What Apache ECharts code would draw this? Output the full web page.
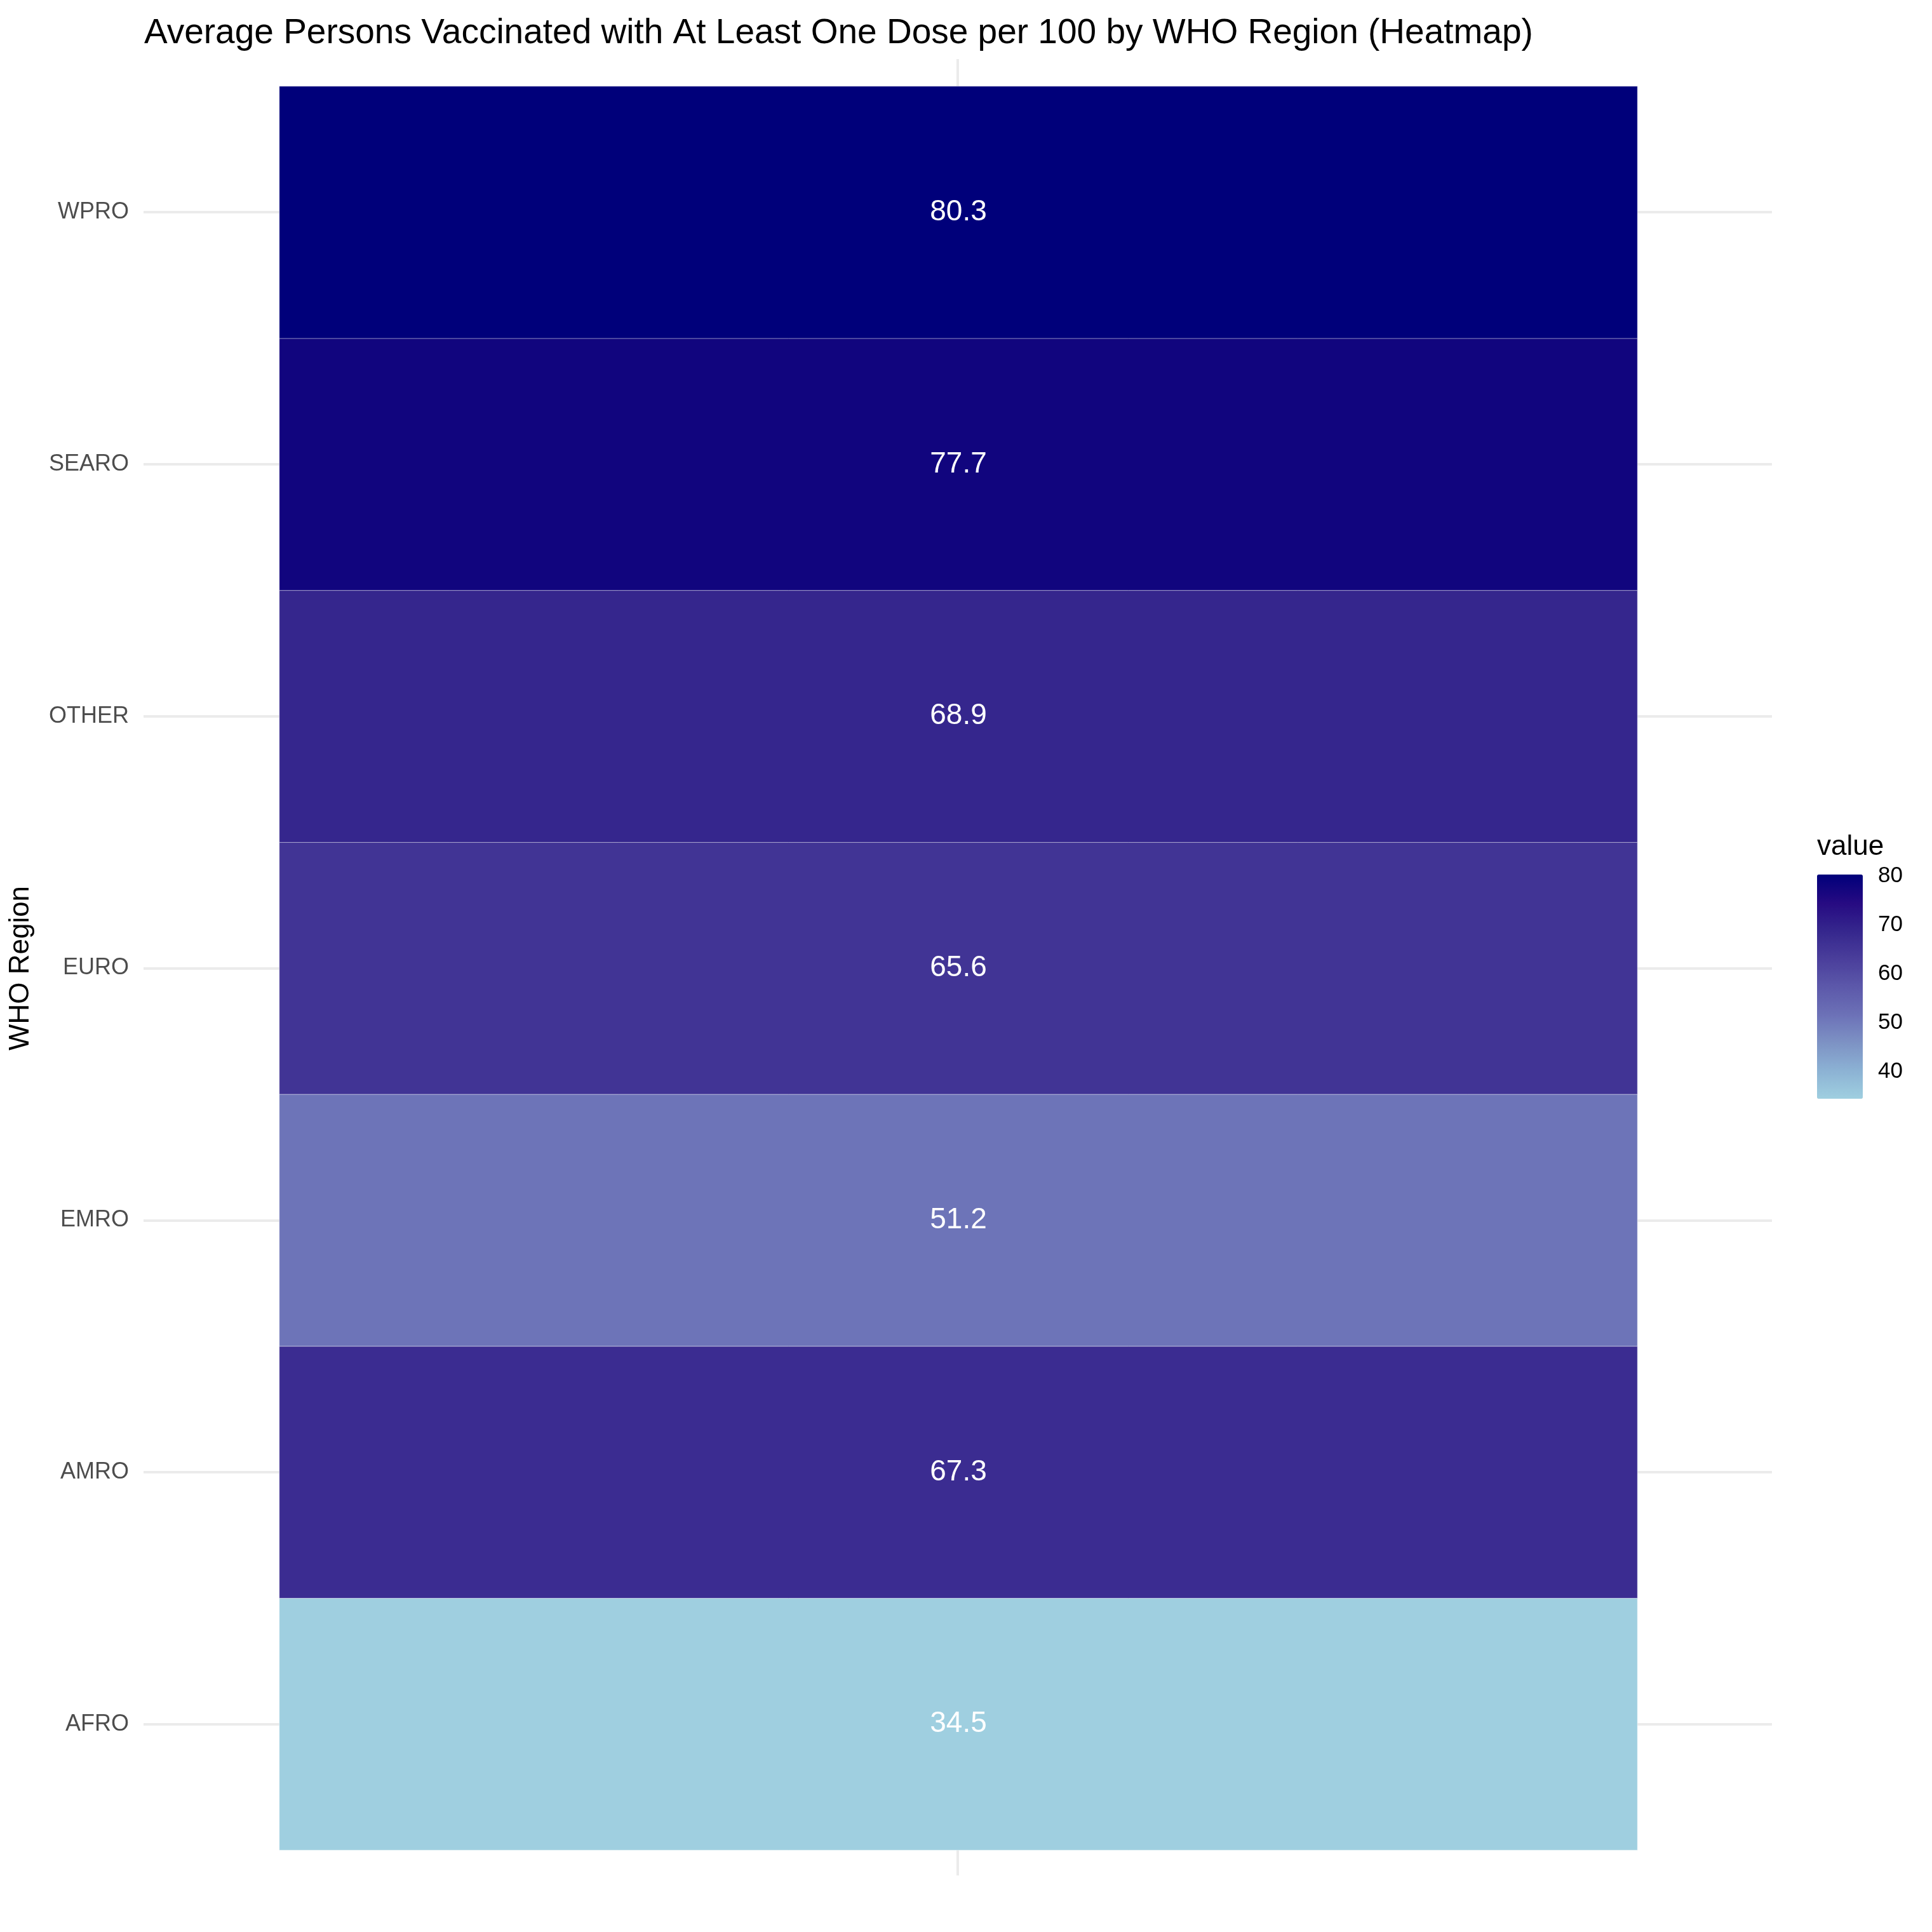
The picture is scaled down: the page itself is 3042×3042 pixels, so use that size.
<!DOCTYPE html>
<html>
<head>
<meta charset="utf-8">
<script src="https://cdn.jsdelivr.net/npm/echarts@6/dist/echarts.min.js"></script>
<style>
  html, body { margin: 0; padding: 0; background: #fff; }
  #main { width: 3042px; height: 3042px; }
</style>
</head>
<body>
<div id="main"></div>
<script>
// data
var regions = ['AFRO', 'AMRO', 'EMRO', 'EURO', 'OTHER', 'SEARO', 'WPRO'];
var vaccinated = [34.5, 67.3, 51.2, 65.6, 68.9, 77.7, 80.3];
var legendTicks = [40, 50, 60, 70, 80];
var colorStops = ['#9fcfe0', '#8cb2d4', '#7d92c4', '#6c71b7', '#5c58aa', '#4a3e9b', '#35268d', '#260a82', '#00007a'];

(function () {
    "use strict";
    var dom = document.getElementById('main');
    var myChart = echarts.init(dom);
    var font = 'Liberation Sans, Arial, Helvetica, sans-serif';

    var cells = [];
    for (var i = 0; i < regions.length; i++) {
        cells.push([0, i, vaccinated[i]]);
    }
    var vMin = Math.min.apply(null, vaccinated);
    var vMax = Math.max.apply(null, vaccinated);

    var option = {
        backgroundColor: '#ffffff',
        animation: false,
        textStyle: { fontFamily: font },
        title: {
            text: 'Average Persons Vaccinated with At Least One Dose per 100 by WHO Region (Heatmap)',
            left: 222,
            top: 20,
            textStyle: { fontSize: 55, fontWeight: 'normal', color: '#000', fontFamily: font }
        },
        grid: [
            // tiles
            { left: 440, right: 464, top: 136, bottom: 129 },
            // horizontal grid lines (tile centres)
            { left: 226, right: 252, top: 334, bottom: 327 },
            // vertical grid line
            { left: 226, right: 252, top: 93, bottom: 89 },
            // legend ticks
            { left: 2861, width: 72, top: 1377, height: 353 }
        ],
        xAxis: [
            { gridIndex: 0, type: 'category', data: [''], axisLine: { show: false }, axisTick: { show: false }, axisLabel: { show: false }, splitLine: { show: false } },
            { gridIndex: 1, type: 'value', min: 0, max: 1, show: false },
            { gridIndex: 2, type: 'value', min: -1, max: 1, interval: 1,
              axisLine: { show: false }, axisTick: { show: false }, axisLabel: { show: false },
              splitLine: { show: true, lineStyle: { color: ['rgba(0,0,0,0)', '#ebebeb', 'rgba(0,0,0,0)'], width: 4 } } },
            { gridIndex: 3, type: 'value', min: 0, max: 1, show: false }
        ],
        yAxis: [
            { gridIndex: 0, type: 'category', data: regions,
              name: 'WHO Region', nameLocation: 'middle', nameGap: 385,
              nameTextStyle: { fontSize: 44, color: '#000', fontFamily: font },
              axisLine: { show: false }, axisTick: { show: false }, splitLine: { show: false },
              axisLabel: { margin: 237, fontSize: 36, color: '#4d4d4d', fontFamily: font } },
            { gridIndex: 1, type: 'value', min: 0, max: 6, interval: 1,
              axisLine: { show: false }, axisTick: { show: false }, axisLabel: { show: false },
              splitLine: { show: true, lineStyle: { color: '#ebebeb', width: 4 } } },
            { gridIndex: 2, type: 'value', min: 0, max: 1, show: false },
            { gridIndex: 3, type: 'value', min: vMin, max: vMax, position: 'left',
              axisLine: { show: false }, splitLine: { show: false }, axisLabel: { show: false },
              axisTick: { show: true, inside: true, length: 14, customValues: legendTicks, lineStyle: { color: '#ffffff', width: 2 } } },
            { gridIndex: 3, type: 'value', min: vMin, max: vMax, position: 'right',
              axisLine: { show: false }, splitLine: { show: false },
              axisTick: { show: true, inside: true, length: 14, customValues: legendTicks, lineStyle: { color: '#ffffff', width: 2 } },
              axisLabel: { show: true, margin: 24, fontSize: 35, color: '#000', customValues: legendTicks, fontFamily: font } }
        ],
        visualMap: {
            type: 'continuous',
            seriesIndex: 0,
            min: vMin,
            max: vMax,
            calculable: false,
            orient: 'vertical',
            left: 2861,
            top: 1377,
            itemWidth: 72,
            itemHeight: 353,
            padding: 0,
            text: null,
            showLabel: false,
            inRange: { color: colorStops }
        },
        graphic: [
            { type: 'text', left: 2861, top: 1312,
              style: { text: 'value', font: '44px ' + font, fill: '#000' } }
        ],
        series: [
            {
                type: 'heatmap',
                xAxisIndex: 0,
                yAxisIndex: 0,
                data: cells,
                z: 3,
                itemStyle: { borderColor: 'rgba(255,255,255,0.55)', borderWidth: 1 },
                label: {
                    show: true,
                    color: '#ffffff',
                    fontSize: 46,
                    fontFamily: font,
                    formatter: function (p) { return p.value[2].toFixed(1); }
                },
                emphasis: { disabled: true }
            }
        ]
    };

    myChart.setOption(option);
})();
</script>
</body>
</html>
